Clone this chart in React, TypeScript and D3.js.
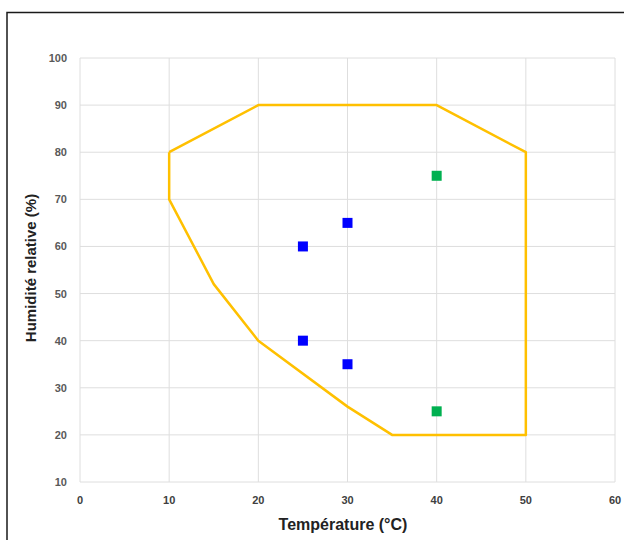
import React, { useEffect, useRef } from 'react';
import * as d3 from 'd3';

// Comfort zone boundary (temperature °C, relative humidity %)
const zoneTemp = [10, 20, 40, 50, 50, 35, 30, 20, 15, 10, 10];
const zoneHum = [80, 90, 90, 80, 20, 20, 26, 40, 52, 70, 80];

// Measured points
const blueTemp = [25, 30, 25, 30];
const blueHum = [60, 65, 40, 35];
const greenTemp = [40, 40];
const greenHum = [75, 25];

const xTicks = [0, 10, 20, 30, 40, 50, 60];
const yTicks = [10, 20, 30, 40, 50, 60, 70, 80, 90, 100];

const width = 624;
const height = 540;

export default function App() {
  const svgRef = useRef<SVGSVGElement>(null);

  useEffect(() => {
    if (!svgRef.current) return;
    const svg = d3.select(svgRef.current);
    svg.selectAll('*').remove();

    const x = d3.scaleLinear().domain([0, 60]).range([80, 615]);
    const y = d3.scaleLinear().domain([10, 100]).range([482, 58]);

    // outer frame
    svg.append('rect')
      .attr('x', 7).attr('y', 12.5)
      .attr('width', 640).attr('height', 560)
      .attr('fill', 'white')
      .attr('stroke', '#1a1a1a')
      .attr('stroke-width', 1.5);

    // grid
    const grid = svg.append('g').attr('stroke', '#dedede').attr('stroke-width', 1);
    grid.selectAll('line.v').data(xTicks).enter().append('line')
      .attr('x1', d => x(d)).attr('x2', d => x(d))
      .attr('y1', y(100)).attr('y2', y(10));
    grid.selectAll('line.h').data(yTicks).enter().append('line')
      .attr('y1', d => y(d)).attr('y2', d => y(d))
      .attr('x1', x(0)).attr('x2', x(60));

    // tick labels
    svg.append('g')
      .selectAll('text').data(yTicks).enter().append('text')
      .attr('x', 67).attr('y', d => y(d) + 4)
      .attr('text-anchor', 'end')
      .attr('font-family', 'Liberation Sans, Arial, sans-serif')
      .attr('font-size', 11).attr('font-weight', 'bold')
      .attr('fill', '#595959')
      .text(d => d);

    svg.append('g')
      .selectAll('text').data(xTicks).enter().append('text')
      .attr('x', d => x(d)).attr('y', 504)
      .attr('text-anchor', 'middle')
      .attr('font-family', 'Liberation Sans, Arial, sans-serif')
      .attr('font-size', 11).attr('font-weight', 'bold')
      .attr('fill', '#404040')
      .text(d => d);

    // axis titles
    svg.append('text')
      .attr('x', 343).attr('y', 530)
      .attr('text-anchor', 'middle')
      .attr('font-family', 'Liberation Sans, Arial, sans-serif')
      .attr('font-size', 16).attr('font-weight', 'bold')
      .attr('fill', '#222')
      .text('Température (°C)');

    svg.append('text')
      .attr('transform', `translate(36,268) rotate(-90)`)
      .attr('text-anchor', 'middle')
      .attr('font-family', 'Liberation Sans, Arial, sans-serif')
      .attr('font-size', 15).attr('font-weight', 'bold')
      .attr('fill', '#222')
      .text('Humidité relative (%)');

    // comfort zone polygon
    const zone = zoneTemp.map((t, i) => [t, zoneHum[i]] as [number, number]);
    const line = d3.line<[number, number]>()
      .x(d => x(d[0]))
      .y(d => y(d[1]));
    svg.append('path')
      .datum(zone)
      .attr('d', line)
      .attr('fill', 'none')
      .attr('stroke', '#FFC000')
      .attr('stroke-width', 2.5)
      .attr('stroke-linejoin', 'round');

    // markers
    const size = 10;
    const drawSquares = (ts: number[], hs: number[], color: string) => {
      svg.append('g')
        .selectAll('rect').data(ts).enter().append('rect')
        .attr('x', (d) => x(d) - size / 2)
        .attr('y', (d, i) => y(hs[i]) - size / 2)
        .attr('width', size).attr('height', size)
        .attr('fill', color);
    };
    drawSquares(blueTemp, blueHum, '#0000FF');
    drawSquares(greenTemp, greenHum, '#00B050');
  }, []);

  return (
    <svg
      ref={svgRef}
      width={width}
      height={height}
      style={{ position: 'absolute', left: 0, top: 0, display: 'block' }}
    />
  );
}
